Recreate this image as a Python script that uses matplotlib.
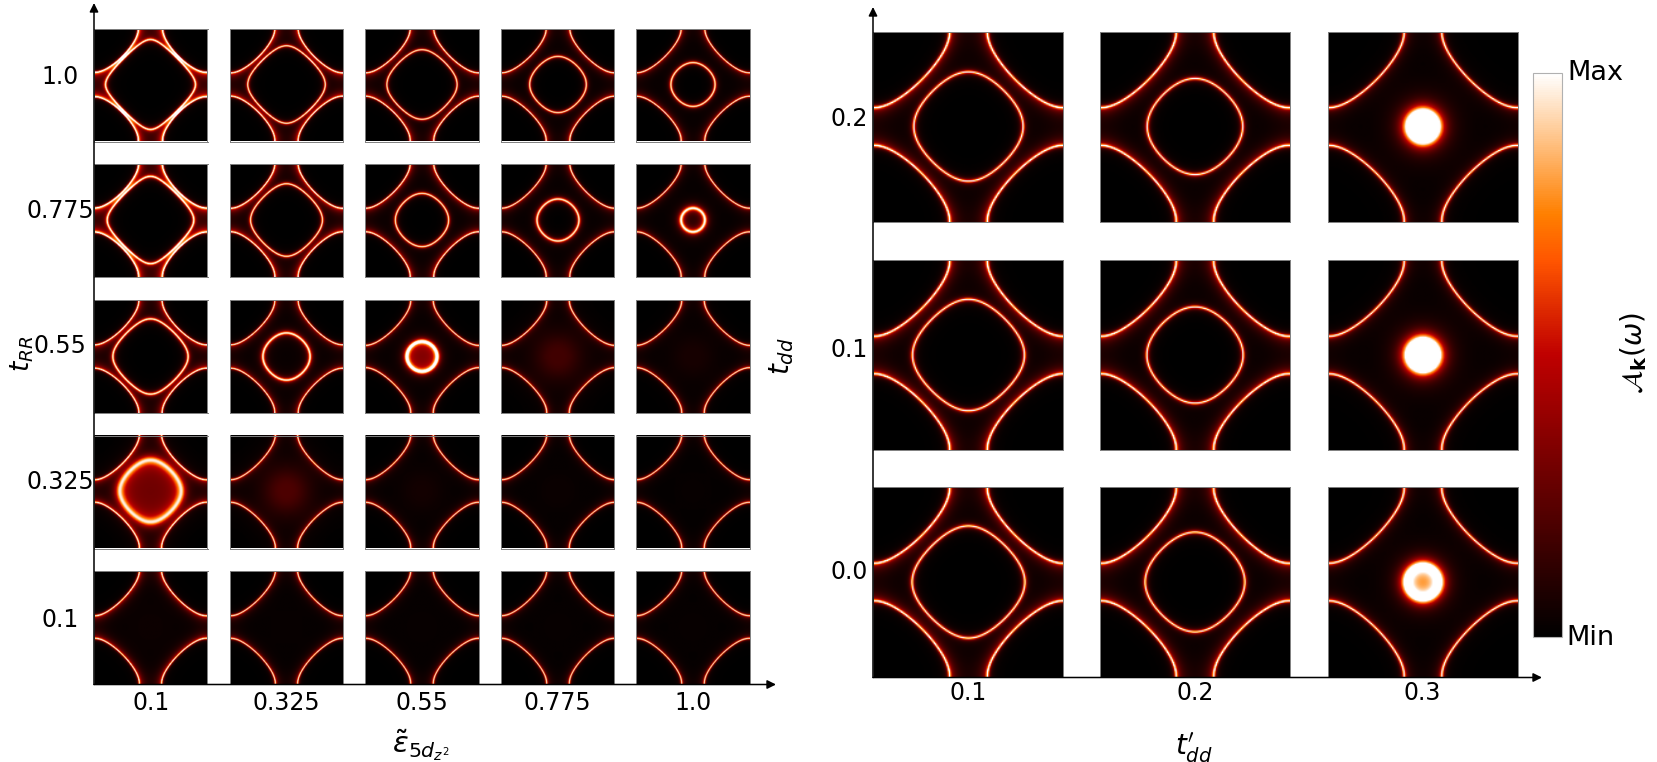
#!/usr/bin/env python

import numpy as np
import matplotlib
matplotlib.use('Agg')
import matplotlib.pyplot as plt
from matplotlib.cm import ScalarMappable

W, H = 1658, 762

left_x_ticks = ['0.1', '0.325', '0.55', '0.775', '1.0']
left_y_ticks = ['1.0', '0.775', '0.55', '0.325', '0.1']
right_x_ticks = ['0.1', '0.2', '0.3']
right_y_ticks = ['0.2', '0.1', '0.0']

# Inner pocket half size as a fraction of the panel width.
left_extent = [
  [0.400, 0.345, 0.310, 0.250, 0.195],
  [0.385, 0.320, 0.235, 0.185, 0.105],
  [0.335, 0.210, 0.135, 0.000, 0.000],
  [0.275, 0.000, 0.000, 0.000, 0.000],
  [0.000, 0.000, 0.000, 0.000, 0.000],
]
left_height = [
  [1.00, 1.00, 1.00, 1.00, 1.00],
  [1.00, 1.00, 1.00, 1.00, 1.00],
  [1.00, 1.00, 1.10, 0.17, 0.06],
  [0.82, 0.20, 0.05, 0.03, 0.02],
  [0.03, 0.02, 0.02, 0.02, 0.02],
]
left_gamma = [
  [0.045, 0.042, 0.042, 0.045, 0.050],
  [0.050, 0.045, 0.048, 0.060, 0.075],
  [0.055, 0.070, 0.085, 0.550, 0.550],
  [0.170, 0.550, 0.550, 0.550, 0.550],
  [0.700, 0.700, 0.700, 0.700, 0.700],
]
left_fill = [
  [0.00, 0.00, 0.00, 0.00, 0.00],
  [0.00, 0.00, 0.00, 0.00, 0.05],
  [0.00, 0.02, 0.30, 0.00, 0.00],
  [0.28, 0.00, 0.00, 0.00, 0.00],
  [0.00, 0.00, 0.00, 0.00, 0.00],
]
left_cross = [
  [0.110, 0.105, 0.105, 0.105, 0.105],
  [0.108, 0.105, 0.105, 0.105, 0.105],
  [0.105, 0.105, 0.100, 0.100, 0.100],
  [0.100, 0.100, 0.100, 0.100, 0.100],
  [0.100, 0.100, 0.100, 0.100, 0.100],
]
# Dark red glow on the zone side of the outer surface.
left_haze = [
  [0.50, 0.32, 0.25, 0.20, 0.18],
  [0.50, 0.32, 0.25, 0.18, 0.15],
  [0.30, 0.20, 0.15, 0.12, 0.12],
  [0.25, 0.12, 0.12, 0.10, 0.10],
  [0.26, 0.15, 0.12, 0.10, 0.10],
]

right_extent = [
  [0.288, 0.253, 0.072],
  [0.295, 0.255, 0.076],
  [0.297, 0.264, 0.088],
]
right_height = [
  [1.00, 1.00, 1.00],
  [1.00, 1.00, 1.00],
  [1.00, 1.00, 1.00],
]
right_gamma = [
  [0.036, 0.036, 0.120],
  [0.036, 0.036, 0.120],
  [0.036, 0.036, 0.105],
]
right_fill = [
  [0.00, 0.00, 0.82],
  [0.00, 0.00, 0.75],
  [0.00, 0.00, 0.58],
]
right_cross = [
  [0.100, 0.100, 0.100],
  [0.100, 0.100, 0.100],
  [0.100, 0.100, 0.100],
]
right_haze = [
  [0.20, 0.20, 0.10],
  [0.20, 0.20, 0.10],
  [0.20, 0.20, 0.10],
]

TAU = -0.14
LINE_GAMMA = 0.033
HAZE_GAMMA = 0.20
SOFT = 0.8
k = np.linspace(-np.pi, np.pi, 151)
kx, ky = np.meshgrid(k, k)
band = np.cos(kx) + np.cos(ky)
outer = band + 2 * TAU * np.cos(kx) * np.cos(ky)
band_norm = np.sqrt(np.sin(kx)**2 + np.sin(ky)**2 + SOFT**2)
outer_norm = np.sqrt((np.sin(kx) * (1 + 2 * TAU * np.cos(ky)))**2
                     + (np.sin(ky) * (1 + 2 * TAU * np.cos(kx)))**2 + SOFT**2)

def spectral(extent, height, gamma, fill, cross, haze):
  a = 2 * np.pi * cross
  outer_level = np.cos(a) - 1 - 2 * TAU * np.cos(a)
  d_out = (outer - outer_level) / outer_norm
  level = 1 + np.cos(2 * np.pi * extent)
  d_in = (band - level) / band_norm
  # Glow sits between the surfaces, never inside a real pocket.
  glow = haze * HAZE_GAMMA**2 / (d_out**2 + HAZE_GAMMA**2) * 0.5 * (1 + np.tanh(d_out / 0.03))
  if extent > 0:
    glow = glow * 0.5 * (1 - np.tanh(d_in / 0.03))
  img = glow + LINE_GAMMA**2 / (d_out**2 + LINE_GAMMA**2)
  img = img + height * gamma**2 / (d_in**2 + gamma**2)
  img = img + fill * 0.5 * (1 + np.tanh(d_in / gamma))
  return np.clip(img, 0, 1)

def px_axes(fig, x0, y0, x1, y1):
  return fig.add_axes([x0 / W, 1 - y1 / H, (x1 - x0) / W, (y1 - y0) / H])

def draw_grid(fig, xs, ys, size, extent, height, gamma, fill, cross, haze):
  for r, y0 in enumerate(ys):
    for c, x0 in enumerate(xs):
      ax = px_axes(fig, x0, y0, x0 + size, y0 + size)
      img = spectral(extent[r][c], height[r][c], gamma[r][c], fill[r][c], cross[r][c], haze[r][c])
      ax.imshow(img, cmap='gist_heat', vmin=0, vmax=1, origin='lower',
                interpolation='bilinear', aspect='auto')
      ax.set_xticks([])
      ax.set_yticks([])
      for s in ax.spines.values():
        s.set_color('#808080')
        s.set_linewidth(0.7)

def arrow(fig, x0, y0, x1, y1):
  fig.add_artist(matplotlib.patches.FancyArrowPatch(
    (x0 / W, 1 - y0 / H), (x1 / W, 1 - y1 / H), transform=fig.transFigure,
    arrowstyle='-|>', mutation_scale=13, color='black', lw=1.1,
    shrinkA=0, shrinkB=0, zorder=10))

def label(fig, x, y, s, size=17, **kw):
  fig.text(x / W, 1 - y / H, s, fontsize=size, ha='center', va='center', **kw)

def plot():
  fig = plt.figure(figsize=(W / 100, H / 100), dpi=100)

  left_xs = [94.5, 229.9, 365.5, 501.0, 636.5]
  left_ys = [28.5, 164.0, 299.7, 435.5, 571.0]
  left_size = 113
  draw_grid(fig, left_xs, left_ys, left_size, left_extent, left_height, left_gamma,
            left_fill, left_cross, left_haze)
  right_xs = [873.0, 1100.0, 1327.5]
  right_ys = [32.0, 259.7, 487.3]
  right_size = 190
  draw_grid(fig, right_xs, right_ys, right_size, right_extent, right_height, right_gamma,
            right_fill, right_cross, right_haze)

  arrow(fig, 94, 684.5, 94, 3)
  arrow(fig, 94, 684.5, 776, 684.5)
  arrow(fig, 873, 677.5, 873, 7)
  arrow(fig, 873, 677.5, 1542, 677.5)

  for x, s in zip(left_xs, left_x_ticks):
    label(fig, x + left_size / 2, 703, s)
  for y, s in zip([77, 211, 346, 482, 620], left_y_ticks):
    label(fig, 60, y, s)
  for x, s in zip(right_xs, right_x_ticks):
    label(fig, x + right_size / 2, 693, s)
  for y, s in zip([118.5, 350, 572], right_y_ticks):
    label(fig, 849, y, s)

  label(fig, 421, 745, r'$\tilde{\varepsilon}_{5d_{z^2}}$', size=21)
  label(fig, 22, 354, r'$t_{RR}$', size=19, rotation=90)
  label(fig, 1194, 748, r"$t^{\prime}_{dd}$", size=20)
  label(fig, 782, 356, r'$t_{dd}$', size=20, rotation=90)
  label(fig, 1634, 353, r'$\mathcal{A}_{\mathbf{k}}(\omega)$', size=20, rotation=90)
  label(fig, 1595, 73, 'Max', size=19.5)
  label(fig, 1590, 638, 'Min', size=19.5)

  cax = px_axes(fig, 1533.5, 72.5, 1562, 636.5)
  cb = fig.colorbar(ScalarMappable(cmap='gist_heat'), cax=cax)
  cb.set_ticks([])
  cb.outline.set_edgecolor('#b0b0b0')
  cb.outline.set_linewidth(0.8)

  fig.savefig('out.png', dpi=100)

if __name__ == '__main__':
  plot()
